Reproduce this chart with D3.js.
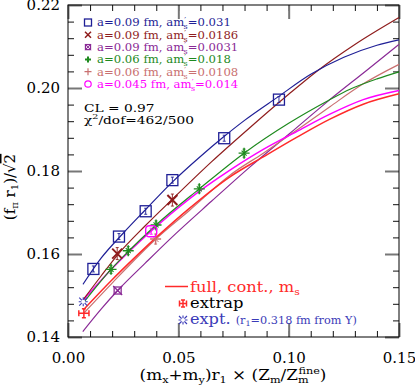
<!DOCTYPE html>
<html>
<head>
<meta charset="utf-8">
<script src="https://cdn.jsdelivr.net/npm/d3@7"></script>
<style>
    html, body { margin: 0; padding: 0; background: #fff; }
    svg { display: block; font-family: "DejaVu Serif", serif; }
</style>
</head>
<body>
<svg id="chart" width="415" height="387"></svg>
<script>
// Fitkurven und Datenpunkte f_pi r1 / sqrt(2)

// a=0.09 fm, am's=0.031
const blueFitX = [0.0068, 0.015, 0.025, 0.035, 0.047, 0.06, 0.07, 0.08, 0.095, 0.11, 0.125, 0.14, 0.15];
const blueFitY = [0.1527, 0.1590, 0.1650, 0.1706, 0.1772, 0.1835, 0.1880, 0.1922, 0.1978, 0.2033, 0.2074, 0.2103, 0.2116];
const blueX = [0.0115, 0.0231, 0.0352, 0.0473, 0.0708, 0.0956];
const blueY = [0.1564, 0.1642, 0.1703, 0.1778, 0.1879, 0.1972];

// a=0.09 fm, am's=0.0186
const brownFitX = [0.0069, 0.015, 0.0225, 0.035, 0.0473, 0.065, 0.0825, 0.10, 0.1134, 0.13, 0.15];
const brownFitY = [0.1490, 0.1547, 0.1598, 0.1668, 0.1732, 0.1822, 0.1905, 0.1985, 0.2043, 0.2105, 0.2170];
const brownX = [0.0223, 0.0473];
const brownY = [0.1601, 0.1730];

// a=0.09 fm, am's=0.0031
const purpleFitX = [0.0067, 0.015, 0.0225, 0.035, 0.0462, 0.065, 0.0825, 0.1006, 0.118, 0.135, 0.15];
const purpleFitY = [0.1413, 0.1467, 0.1512, 0.1578, 0.1636, 0.1727, 0.1810, 0.1891, 0.1969, 0.2041, 0.2105];
const purpleX = [0.0225];
const purpleY = [0.1512];

// a=0.06 fm, am's=0.018
const greenFitX = [0.0069, 0.0195, 0.0273, 0.0399, 0.0595, 0.0798, 0.10, 0.118, 0.1278, 0.14, 0.15];
const greenFitY = [0.1482, 0.1563, 0.1606, 0.1670, 0.1757, 0.1843, 0.1915, 0.1970, 0.1997, 0.2022, 0.2039];
const greenX = [0.0195, 0.0273, 0.0399, 0.0595, 0.0798];
const greenY = [0.1563, 0.1608, 0.1670, 0.1757, 0.1843];

// a=0.06 fm, am's=0.0108
const rosyFitX = [0.0069, 0.02, 0.0396, 0.055, 0.0734, 0.0885, 0.1036, 0.1187, 0.1338, 0.15];
const rosyFitY = [0.1456, 0.1530, 0.1635, 0.1705, 0.1790, 0.1843, 0.1898, 0.1955, 0.2010, 0.2057];
const rosyX = [0.0397];
const rosyY = [0.1636];

// a=0.045 fm, am's=0.014
const magentaFitX = [0.0069, 0.02, 0.0376, 0.055, 0.0734, 0.0885, 0.1036, 0.1187, 0.1338, 0.15];
const magentaFitY = [0.1489, 0.1565, 0.1655, 0.1733, 0.1802, 0.1852, 0.1895, 0.1937, 0.1972, 0.1994];
const magentaX = [0.0377];
const magentaY = [0.1655];

// volle Kontinuumsextrapolation, m_s
const redFitX = [0.0069, 0.02, 0.03, 0.04, 0.055, 0.0734, 0.0885, 0.1036, 0.1187, 0.1338, 0.15];
const redFitY = [0.1465, 0.1538, 0.1590, 0.1640, 0.1710, 0.1786, 0.1834, 0.1881, 0.1925, 0.1961, 0.1986];

// Extrapolation und Experiment
const extrapPoint = [0.0072, 0.1457];
const extrapErr = [0.0023, 0.0006];
const exptPoint = [0.0069, 0.1485];

// Achsenbeschriftung
const xMajorTicks = [0, 0.05, 0.10, 0.15];
const yMajorTicks = [0.14, 0.16, 0.18, 0.20, 0.22];
const xMinorTicks = d3.range(0, 16).map(i => i * 0.01);
const yMinorTicks = d3.range(0, 21).map(i => 0.14 + i * 0.004);

// Farben
const COL = {
    blue: "#1f1f96",
    brown: "#8f1d1d",
    purple: "#8a2a96",
    green: "#1e8a1e",
    rosy: "#c97070",
    magenta: "#ff00ff",
    red: "#ff2a2a",
    exptBlue: "#3a3ab8"
};

const svg = d3.select("#chart");

const x = d3.scaleLinear().domain([0, 0.15]).range([68, 399]);
const y = d3.scaleLinear().domain([0.14, 0.22]).range([337, 5]);

// Text horizontal auf Zielbreite strecken (Schrift im Original ist breiter)
function stretchTo(sel, ax, width) {
    const w = sel.node().getBBox().width;
    const k = width / w;
    sel.attr("transform", `translate(${ax},0) scale(${k},1) translate(${-ax},0)`);
    return k;
}

function scaleAt(sel, ax, k) {
    sel.attr("transform", `translate(${ax},0) scale(${k},1) translate(${-ax},0)`);
}

// Achsen
function drawAxes() {
    const gB = svg.append("g").attr("transform", `translate(0,${y.range()[0]})`);
    gB.call(d3.axisBottom(x).tickValues(xMinorTicks).tickSize(-6).tickFormat(""));
    const gBM = svg.append("g").attr("transform", `translate(0,${y.range()[0]})`);
    gBM.call(d3.axisBottom(x).tickValues(xMajorTicks).tickSize(-14).tickPadding(15)
        .tickFormat(d3.format(".2f")));

    const gT = svg.append("g").attr("transform", `translate(0,${y.range()[1]})`);
    gT.call(d3.axisTop(x).tickValues(xMinorTicks).tickSize(-6).tickFormat(""));
    const gTM = svg.append("g").attr("transform", `translate(0,${y.range()[1]})`);
    gTM.call(d3.axisTop(x).tickValues(xMajorTicks).tickSize(-14).tickFormat(""));

    const gL = svg.append("g").attr("transform", `translate(${x.range()[0]},0)`);
    gL.call(d3.axisLeft(y).tickValues(yMinorTicks).tickSize(-6).tickFormat(""));
    const gLM = svg.append("g").attr("transform", `translate(${x.range()[0]},0)`);
    gLM.call(d3.axisLeft(y).tickValues(yMajorTicks).tickSize(-14).tickPadding(8)
        .tickFormat(d3.format(".2f")));

    const gR = svg.append("g").attr("transform", `translate(${x.range()[1]},0)`);
    gR.call(d3.axisRight(y).tickValues(yMinorTicks).tickSize(-6).tickFormat(""));
    const gRM = svg.append("g").attr("transform", `translate(${x.range()[1]},0)`);
    gRM.call(d3.axisRight(y).tickValues(yMajorTicks).tickSize(-14).tickFormat(""));

    [gB, gT, gL, gR].forEach(g => {
        g.select(".domain").remove();
        g.selectAll(".tick line").attr("stroke", "#111").attr("stroke-width", 1);
    });
    [gBM, gTM, gLM, gRM].forEach(g => {
        g.select(".domain").remove();
        g.selectAll(".tick line").attr("stroke", "#777").attr("stroke-width", 2);
        g.selectAll(".tick text")
            .attr("font-family", "DejaVu Serif, serif")
            .attr("font-size", 15)
            .attr("fill", "#000");
    });

    // Rahmen
    svg.append("rect")
        .attr("x", x.range()[0]).attr("y", y.range()[1])
        .attr("width", x.range()[1] - x.range()[0])
        .attr("height", y.range()[0] - y.range()[1])
        .attr("fill", "none").attr("stroke", "#000").attr("stroke-width", 1);
}

// Kurven
const line = d3.line()
    .x(d => x(d[0]))
    .y(d => y(d[1]))
    .curve(d3.curveMonotoneX);

function drawCurve(xs, ys, color, width) {
    svg.append("path")
        .datum(d3.zip(xs, ys))
        .attr("d", line)
        .attr("fill", "none")
        .attr("stroke", color)
        .attr("stroke-width", width || 1.2);
}

// Symbole
function symbolSquare(g, cx, cy, s, color) {
    g.append("rect").attr("x", cx - s / 2).attr("y", cy - s / 2)
        .attr("width", s).attr("height", s)
        .attr("fill", "none").attr("stroke", color).attr("stroke-width", 1.3);
}

function symbolCross(g, cx, cy, s, color, width) {
    g.append("path")
        .attr("d", `M${cx - s / 2},${cy - s / 2}L${cx + s / 2},${cy + s / 2}M${cx - s / 2},${cy + s / 2}L${cx + s / 2},${cy - s / 2}`)
        .attr("stroke", color).attr("stroke-width", width || 1.6).attr("fill", "none");
}

function symbolPlus(g, cx, cy, s, color, width) {
    g.append("path")
        .attr("d", `M${cx - s / 2},${cy}L${cx + s / 2},${cy}M${cx},${cy - s / 2}L${cx},${cy + s / 2}`)
        .attr("stroke", color).attr("stroke-width", width || 1.4).attr("fill", "none");
}

function errBar(g, cx, cy, h, color) {
    g.append("path")
        .attr("d", `M${cx},${cy - h}L${cx},${cy + h}M${cx - 1.5},${cy - h}L${cx + 1.5},${cy - h}M${cx - 1.5},${cy + h}L${cx + 1.5},${cy + h}`)
        .attr("stroke", color).attr("stroke-width", 0.9).attr("fill", "none");
}

function drawPoints() {
    const g = svg.append("g");

    d3.zip(blueX, blueY).forEach(([a, b]) => {
        symbolSquare(g, x(a), y(b), 11, COL.blue);
        errBar(g, x(a), y(b), 3, COL.blue);
    });
    d3.zip(brownX, brownY).forEach(([a, b]) => {
        symbolCross(g, x(a), y(b), 10, COL.brown, 2);
        errBar(g, x(a), y(b), 6, COL.brown);
    });
    d3.zip(purpleX, purpleY).forEach(([a, b]) => {
        symbolSquare(g, x(a), y(b), 7, COL.purple);
        symbolCross(g, x(a), y(b), 9, COL.purple, 1.3);
    });
    d3.zip(greenX, greenY).forEach(([a, b]) => {
        symbolPlus(g, x(a), y(b), 11, COL.green, 1.4);
        symbolCross(g, x(a), y(b), 5, COL.green, 1.2);
        errBar(g, x(a), y(b), 4, COL.green);
    });
    d3.zip(rosyX, rosyY).forEach(([a, b]) => {
        symbolPlus(g, x(a), y(b), 11, COL.rosy, 1.4);
        symbolCross(g, x(a), y(b), 6, COL.rosy, 1);
        errBar(g, x(a), y(b), 5, COL.rosy);
    });
    d3.zip(magentaX, magentaY).forEach(([a, b]) => {
        g.append("rect").attr("x", x(a) - 5.5).attr("y", y(b) - 5.5)
            .attr("width", 11).attr("height", 11).attr("rx", 3.5)
            .attr("fill", "none").attr("stroke", COL.magenta).attr("stroke-width", 1.4);
        errBar(g, x(a), y(b), 3, COL.magenta);
    });

    // Extrapolation (rotes Kreuz mit Fehlerbalken)
    drawExtrap(g, x(extrapPoint[0]), y(extrapPoint[1]),
        x(extrapPoint[0] + extrapErr[0]) - x(extrapPoint[0]),
        y(extrapPoint[1] - extrapErr[1]) - y(extrapPoint[1]));
    drawExpt(g, x(exptPoint[0]), y(exptPoint[1]));
}

function drawExtrap(g, cx, cy, dx, dy) {
    g.append("path")
        .attr("d", `M${cx - dx},${cy}L${cx + dx},${cy}M${cx - dx},${cy - 3}L${cx - dx},${cy + 3}M${cx + dx},${cy - 3}L${cx + dx},${cy + 3}` +
            `M${cx},${cy - dy - 2}L${cx},${cy + dy + 2}M${cx - 2},${cy - dy - 2}L${cx + 2},${cy - dy - 2}M${cx - 2},${cy + dy + 2}L${cx + 2},${cy + dy + 2}`)
        .attr("stroke", COL.red).attr("stroke-width", 1.5).attr("fill", "none");
}

function drawExpt(g, cx, cy) {
    symbolPlus(g, cx, cy, 9, COL.exptBlue, 1.1);
    symbolCross(g, cx, cy, 8, COL.exptBlue, 1.1);
    g.append("circle").attr("cx", cx).attr("cy", cy).attr("r", 2)
        .attr("fill", "#fff");
}

// Legende oben links
const legendLabels = ["a=0.09 fm, am", "a=0.09 fm, am", "a=0.09 fm, am", "a=0.06 fm, am", "a=0.06 fm, am", "a=0.045 fm, am"];
const legendValues = ["=0.031", "=0.0186", "=0.0031", "=0.018", "=0.0108", "=0.014"];
const legendColors = [COL.blue, COL.brown, COL.purple, COL.green, COL.rosy, COL.magenta];

function drawLegend() {
    const g = svg.append("g");
    let k = 1;
    legendLabels.forEach((label, i) => {
        const base = 26.5 + i * 12.3;
        const cy = base - 4;
        const col = legendColors[i];
        if (i === 0) symbolSquare(g, 88, cy, 7, col);
        if (i === 1) symbolCross(g, 88, cy, 6, col, 1.5);
        if (i === 2) { symbolSquare(g, 88, cy, 5, col); symbolCross(g, 88, cy, 6, col, 1); }
        if (i === 3) symbolPlus(g, 88, cy, 6, col, 2);
        if (i === 4) symbolPlus(g, 88, cy, 7, col, 1.2);
        if (i === 5) g.append("circle").attr("cx", 88).attr("cy", cy).attr("r", 3.2)
            .attr("fill", "none").attr("stroke", col).attr("stroke-width", 1.2);

        const t = g.append("text").attr("x", 97).attr("y", base)
            .attr("font-size", 11.5).attr("fill", col);
        t.append("tspan").text(label);
        t.append("tspan").attr("dy", -4).attr("font-size", 8).text("′");
        t.append("tspan").attr("dx", -2.5).attr("dy", 7).attr("font-size", 8).text("s");
        t.append("tspan").attr("dy", -3).text(legendValues[i]);

        // erste Zeile gibt die Streckung vor
        if (i === 0) k = stretchTo(t, 97, 134);
        else scaleAt(t, 97, k);
    });

    const cl = g.append("text").attr("x", 84).attr("y", 112.5).attr("font-size", 11.5)
        .text("CL = 0.97");
    const chi = g.append("text").attr("x", 84).attr("y", 124.5).attr("font-size", 11.5);
    chi.append("tspan").text("χ");
    chi.append("tspan").attr("dy", -5).attr("font-size", 8).text("2");
    chi.append("tspan").attr("dy", 5).text("/dof=462/500");
    const kc = stretchTo(chi, 84, 110);
    scaleAt(cl, 84, kc);

    // Legende unten
    g.append("line").attr("x1", 165).attr("x2", 188).attr("y1", 286.5).attr("y2", 286.5)
        .attr("stroke", COL.red).attr("stroke-width", 1.5);
    const full = g.append("text").attr("x", 190).attr("y", 292).attr("font-size", 15)
        .attr("fill", COL.red);
    full.append("tspan").text("full, cont., m");
    full.append("tspan").attr("dy", 3).attr("font-size", 10).text("s");
    const kf = stretchTo(full, 190, 110);

    drawExtrap(g, 183, 303.5, 3.5, 1.5);
    const extr = g.append("text").attr("x", 190).attr("y", 308).attr("font-size", 15).text("extrap");
    scaleAt(extr, 190, kf);

    drawExpt(g, 183, 320);
    const ex = g.append("text").attr("x", 190).attr("y", 324.5).attr("fill", COL.exptBlue);
    ex.append("tspan").attr("font-size", 15).text("expt. ");
    ex.append("tspan").attr("font-size", 10.5).text("(r");
    ex.append("tspan").attr("font-size", 7.5).attr("dy", 2).text("1");
    ex.append("tspan").attr("font-size", 10.5).attr("dy", -2).text("=0.318 fm from Υ)");
    stretchTo(ex, 190, 167);
}

// Achsentitel
function drawTitles() {
    const xt = svg.append("text").attr("x", 233).attr("y", 380)
        .attr("text-anchor", "middle").attr("font-size", 15);
    xt.append("tspan").text("(m");
    xt.append("tspan").attr("font-size", 10).attr("dy", 3).text("x");
    xt.append("tspan").attr("dy", -3).text("+m");
    xt.append("tspan").attr("font-size", 10).attr("dy", 3).text("y");
    xt.append("tspan").attr("dy", -3).text(")r");
    xt.append("tspan").attr("font-size", 10).attr("dy", 3).text("1");
    xt.append("tspan").attr("dy", -3).text(" × (Z");
    xt.append("tspan").attr("font-size", 10).attr("dy", 3).text("m");
    xt.append("tspan").attr("dy", -3).text("/Z");
    xt.append("tspan").attr("font-size", 10).attr("dy", 3).text("m");
    xt.append("tspan").attr("font-size", 10).attr("dx", -9).attr("dy", -9).text("fine");
    xt.append("tspan").attr("dy", 6).text(")");
    stretchTo(xt, 233, 187);

    const yt = svg.append("text")
        .attr("transform", "translate(15,187) rotate(-90)")
        .attr("text-anchor", "middle").attr("font-size", 15);
    yt.append("tspan").text("(f");
    yt.append("tspan").attr("font-size", 10).attr("dy", 3).text("π");
    yt.append("tspan").attr("dy", -3).text(" r");
    yt.append("tspan").attr("font-size", 10).attr("dy", 3).text("1");
    yt.append("tspan").attr("dy", -3).text(")/√");
    yt.append("tspan").attr("text-decoration", "overline").text("2");
}

drawAxes();
drawCurve(purpleFitX, purpleFitY, COL.purple);
drawCurve(rosyFitX, rosyFitY, COL.rosy);
drawCurve(redFitX, redFitY, COL.red, 1.5);
drawCurve(magentaFitX, magentaFitY, COL.magenta, 1.5);
drawCurve(greenFitX, greenFitY, COL.green);
drawCurve(brownFitX, brownFitY, COL.brown);
drawCurve(blueFitX, blueFitY, COL.blue);
drawPoints();
drawLegend();
drawTitles();
</script>
</body>
</html>
